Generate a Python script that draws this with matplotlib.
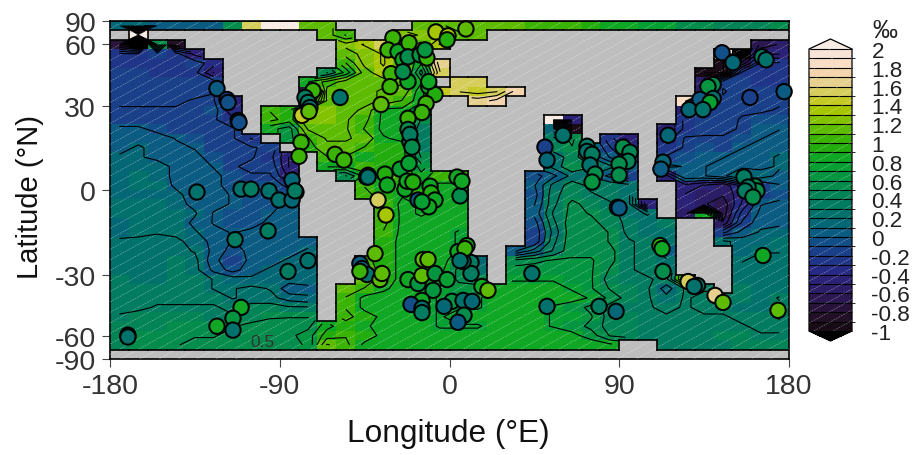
import numpy as np
import matplotlib
matplotlib.use('Agg')
import matplotlib.pyplot as plt
from matplotlib.colors import LinearSegmentedColormap, ListedColormap, BoundaryNorm
from matplotlib.collections import LineCollection

plt.rcParams['font.family'] = ['Liberation Sans', 'DejaVu Sans']
plt.rcParams['axes.unicode_minus'] = False

n = np.nan
N6 = [n, n, n, n, n, n]

# 36 x 36 grid, 10 deg in lon, equal steps in sin(lat), top row first. nan = land
grid = [
    [.15,.15,.1,.1,.1,.1, .6,1.5,2,2,1.2,1.2, n,n,n,n,1.15,1.15, 1.1,1.1,1.1,1.1,1.05,1.05, 1,.95,.9,.9,.75,.75, .5,.5,.45,.45,.45,.5],
    [n,2.1,n,n,n,n, n,n,n,n,n,1.2, 1,n,n,1.3,1.25,1.2, 1.15,1.1,n,n,n,n]+N6+N6,
    [-.8,-1.1,.6,-.85,n,n]+N6+[1.3,1.4,1.5,1.2,1.1,1.4]+N6+N6+[n,n,n,n,-.7,-.6],
    [-.22,-.24,-.18,-.2,-.4,n]+N6+[1.2,1.3,1.4,1.1,1,n]+N6+N6+[n,n,2,-1.1,-.5,-.5],
    [-.2,-.22,-.22,-.2,-.18,-.3]+N6+[1,1.3,1.4,1.2,.9,1.6]+N6+N6+[n,n,-1,-.7,-.22,-.22],
    [-.18,-.18,-.2,-.2,-.2,-.5, n,n,n,n,n,.5, .8,1.2,1.35,1.3,.7,1.5]+N6+N6+[n,-1,-1,-.22,-.2,-.2],
    [-.16,-.16,-.18,-.18,-.18,-.18, n,n,n,n,.9,1.05, 1.2,1.2,1.2,1.15,.9,n, 1.5,1.5,n,n,n,n]+N6+[n,-.6,-.15,-.18,-.2,-.2],
    [-.16,-.16,-.16,-.16,-.16,-.12, n,n,n,n,-.8,1.2, 1.2,1.2,1.1,1.1,.8,1.45, 1.5,1.45,1.5,1.8,n,n]+N6+[n,-.6,-.1,-.18,-.18,-.18],
    [-.14,-.14,-.14,-.14,-.1,-.1, -.5,n,n,n,.3,1.15, 1.2,1.2,1.1,1,.8,n, n,1.7,1.8,n,n,n]+N6+[1.9,-.2,-.14,-.18,-.18,-.14],
    [-.1,-.1,-.1,-.1,-.1,-.05, -.35,n,1,.95,1.2,1.25, 1.2,1.1,.85,.85,.6,n]+N6+N6+[-.5,-.15,-.18,-.14,-.14,-.1],
    [-.1,-.1,-.1,-.1,-.1,-.1, -.2,n,1.05,.95,1.25,1.25, 1.15,1.05,.85,.8,.5,n, n,n,n,n,n,2, -.4,n,n,n,n,n, -.2,-.18,-.18,-.1,-.05,-.05],
    [.05,.05,-.05,-.1,-.1,-.1, -.1,n,.8,.7,1.15,1.2, 1.15,1,.85,.85,.4,n, n,n,n,n,n,.2, -1,n,n,n,n,-.5, -.2,-.15,-.15,-.1,0,0],
    [.1,.1,.1,0,-.05,-.1, -.1,-.25,n,.7,1,1.15, 1.15,1.1,.9,.85,.4,n, n,n,n,n,n,.4, .55,n,-.2,-.4,n,-.3, -.1,-.1,-.1,-.05,0,.1],
    [.1,.15,.1,.05,0,-.1, -.1,-.1,-.15,n,.95,1.1, 1.1,1,.95,.95,.4,n, n,n,n,n,n,.45, .5,.2,-.1,-.3,n,-.2, -.1,-.05,-.1,0,.1,.1],
    [.15,.15,.1,.1,.05,-.05, -.1,-.1,-.2,-.5,n,1, 1,.9,.95,.95,.5,n, n,n,n,n,n,.3, .45,.25,0,-.2,n,-.1, -.05,0,0,.1,.1,.15],
    [.2,.2,.2,.1,.1,0, -.1,-.15,-.15,-.5,n,.9, .9,1,.95,1,.7,n, n,n,n,n,n,.3, .5,.4,.3,.1,n,.05, 0,0,.1,.1,.1,.15],
    [.2,.25,.2,.1,.1,.05, -.05,-.1,-.1,-.4,n,n, .5,.8,.9,1,.8,1, 1,n,n,n,-.05,.1, .3,.25,.1,-.1,n,-.4, 0,0,.1,.3,.2,.1],
    [.2,.25,.25,.1,.1,.05, -.05,-.05,-.05,-.15,n,n, n,1,.9,.95,.9,.85, .85,n,n,n,0,.3, .45,.35,.35,.3,n,n, -.4,-.5,-.6,-.3,-.1,0],
    [.2,.2,.18,.18,.05,.05, 0,-.05,-.05,-.05,n,n, n,1.05,.95,.9,1,.85, .8,n,n,n,-.05,.35, .45,.4,.35,.3,n,n, -.5,-.6,-.6,-.4,-.1,-.05],
    [.25,.25,.25,.18,.1,.05, 0,-.05,-.05,.05,n,n, n,n,1,.85,.9,.85, .8,n,n,n,0,.35, .55,.45,.4,.3,-.5,n, -.5,-.6,-.7,-.35,0,.05],
    [.25,.25,.25,.22,.15,0, -.05,-.05,0,.1,n,n, n,n,1.05,.85,.9,.85, .8,n,n,n,.05,.4, .55,.5,.45,.3,.25,n, -.6,.9,-.7,-.2,.05,.1],
    [.2,.25,.25,.22,.1,0, -.05,-.05,.05,.1,n,n, n,n,1.05,.85,.85,.85, .8,n,n,n,-.05,.35, .6,.55,.45,.35,.3,.35, n,n,-.6,-.1,.1,.1],
    [.18,.22,.25,.22,.15,.05, 0,.05,.1,.1,n,n, n,n,1,.85,.85,.8, .75,n,n,n,-.1,.3, .6,.6,.5,.35,.3,.3, n,n,-.15,.05,.15,.2],
    [.3,.3,.3,.3,.2,.1, 0,.1,.1,.1,.1,n, n,n,.95,.85,.85,.8, .75,n,n,n,-.1,.35, .6,.6,.5,.4,.35,.3, n,n,.3,.2,.2,.25],
    [.3,.3,.3,.3,.25,.1, -.05,.05,.1,.1,.15,n, n,n,.95,.85,.85,.8, .75,n,n,0,.2,.4, .6,.6,.55,.4,.35,.1, n,n,n,.2,.25,.25],
    [.3,.3,.3,.35,.3,.05, -.1,.05,.1,.15,.2,n, n,1.05,.95,.85,.85,.8, .7,.2,n,.55,.6,.65, .65,.65,.55,.4,.35,.3, n,n,n,.25,.3,.3],
    [.3,.3,.3,.35,.3,.1, -.05,.1,.15,.15,.15,n, n,1.1,.95,.85,.85,.8, .6,.3,n,.7,.7,.7, .7,.65,.5,.4,.35,.3, n,n,n,.3,.3,.3],
    [.35,.3,.3,.35,.35,.25, .2,.15,.2,.2,.2,n, n,1.1,.95,.85,.8,.8, .6,.55,n,.75,.75,.75, .7,.65,.45,.4,.4,.35, 1,n,n,.3,.3,.3],
    [.35,.35,.35,.35,.35,.25, .25,.3,.25,.05,.1,n, 1.1,1,.9,.85,.8,.75, .7,.7,.8,.8,.8,.8, .75,.65,.5,.45,.4,.2, .4,.4,n,.35,.3,.3],
    [.35,.35,.35,.35,.35,.35, .25,.3,.3,.2,.15,n, 1,.85,.85,.85,.8,.75, .75,.75,.8,.8,.8,.8, .8,.75,.6,.45,.4,.3, .4,.35,.35,.35,.3,.4],
    [.35,.35,.4,.4,.4,.4, .35,.45,.45,.4,.4,n, 1,.85,.85,.85,.8,.75, .75,.75,.8,.8,.8,.75, .7,.6,.45,.4,.4,.35, .4,.35,.35,.3,.3,.35],
    [.4,.45,.45,.45,.45,.4, .4,.45,.5,.5,.5,n, 1.05,.95,.85,.85,.8,.75, .8,.8,.8,.8,.8,.75, .75,.65,.45,.45,.4,.4, .4,.4,.4,.35,.35,.4],
    [.45,.45,.45,.5,.5,.5, .5,.55,.55,.6,.6,.85, .95,.9,.85,.85,.8,.75, .75,.75,.8,.8,.8,.75, .7,.6,.45,.45,.4,.4, .4,.4,.4,.4,.35,.35],
    [.45,.5,.5,.5,.5,.5, .55,.55,.6,.6,.7,.95, 1,.95,.85,.85,.8,.8, .8,.8,.8,.8,.8,.85, .8,.7,.5,.45,.4,.4, .4,.4,.45,.45,.4,.4],
    [.45,.5,.5,.5,.55,.55, .55,.55,.6,.6,.65,1.15, 1.05,.85,.85,.85,.8,.8, .8,.8,.8,.8,.85,.85, .85,.85,.8,n,n,.4, .4,.4,.4,.45,.45,.45],
    N6+N6+N6+N6+N6+N6,
]

# core sites: lon (E), lat (N), value (permil)
pt_lon = [-123.3,-118,-117.4,-112.1,-111.6,-72.4,-76.6,-75,-74,-78.2,-74.5,-58,-36.3,
          -30,-32.6,-27.3,-21.5,-24.7,-22,-15.6,-12,-31,-31.5,-22,-24.7,-11,-7.7,-11,
          -12.4,-14.6,-22,-22,-21,-7.2,-.8,8.7,-1.3,-13,-21,-19.9,
          -78.7,-79.8,-60.7,-56,-83.5,-81.4,-43.2,-44,-43.2,-34.2,-33,-37.9,-33.7,-26.2,-21.5,
          -23.6,-22.5,-19.4,-10.3,-9.8,-7.7,-11,-16.7,-14.6,4,5.6,6.6,
          -39.5,-47.5,-46.4,-43.7,-36.9,-35.8,-47.5,-22,-16.7,-14.6,-7.7,-1.3,-8.7,-14.6,-20.4,-14.6,-14.6,
          1.3,-2.9,7.2,12,7.7,4.5,-14,-11.4,4.5,9.3,11.4,11.4,7.2,17.2,20.4,
          -170.5,-170.5,-110.5,-114.8,-123.3,-114.8,-113.7,-96.2,-75,-85.6,-133.9,-110.5,-105.2,-95.7,-90.4,-83.5,-81.9,
          144.5,150.3,165.7,167.8,139.8,137,159.3,177.4,132.8,139.8,138.1,127,134.4,115.9,113.2,112.1,156.1,162,
          60.2,50.6,51.7,72.9,72.9,75.6,74.5,77.2,75.6,92,95.7,94.6,89.9,89.9,89,89.9,
          111.6,112.7,113.2,163,158.3,156.7,160.9,166.2,174.2,8.2,5.6,
          43.7,51.7,79.3,88.3,126.5,131.5,129.7,140.8,145]
pt_lat = [36.9,32.4,31.2,24.3,23.6,36,33.2,31.2,29.2,26.2,27.7,33.2,30.4,
          64.2,56,54.9,60.6,50.4,52,53.1,51.4,43.5,37.7,39.9,44.4,37.7,34.4,39.9,
          30.8,27.3,25.1,21,16.7,69.3,65.8,72.4,62.7,56,19.2,14.7,
          16.4,11.5,12.2,10.2,3.4,-.7,5,4.4,4.4,5.4,1.7,-3.4,-8.5,7.1,9.1,
          .3,3,2.7,1.3,-1,-3.4,-5.7,-3.4,-4,4.4,-2,3,
          -22.1,-25.8,-27.7,-30,-32,-29.6,-28.8,-32,-33.6,-30.4,-29.6,-32,-36.4,-40.8,-42.6,-44.4,-46.5,
          -41.2,-43.5,-40.8,-41.2,-47.8,-51.5,-24.3,-24.3,-21.4,-19.2,-25.4,-29.6,-25,-34.8,-36.4,
          -59.2,-60.4,-44,-49.4,-53.7,-56,-17.1,-14,-24.7,-28.8,-.7,.3,.3,-.3,-3.4,-3.4,-.3,
          54.3,48.9,52,50.4,38.6,37.7,33.2,35.6,32.4,32.8,31.2,28.4,28.4,18.9,9.5,7.1,4.4,1.3,
          18.9,14.7,10.2,15,13.2,12.2,8.5,5.4,2.7,14.7,12.9,9.8,8.8,5.1,-5.9,-6.1,
          -19.2,-20.3,-28.8,-.3,1,-.3,-2.4,-22.8,-45.4,-20.3,-24.7,
          -29.6,-43.5,-43.5,-45.9,-32.8,-34.4,-34.8,-38.6,-41.7]
pt_val = [.1,-.1,-.05,-.1,-.05,1,.35,.35,.3,1.45,1.2,.3,1.2,
          1.05,1,.8,1,.9,.6,.7,1,1,1.05,.9,.6,.85,.95,.85,
          1,1,1,.5,.4,1.4,1.4,1.15,.95,.7,.4,.5,
          1,1,1.05,1.05,.15,.4,.3,.2,.3,.95,.9,1.5,1.35,.75,.75,
          .9,.85,.95,.9,.95,.8,.8,.1,.75,.85,.5,.85,
          1.2,.1,.15,.3,1.2,1.1,1,.8,.7,1.2,.7,.75,.7,.8,-.05,.25,.4,
          .7,.15,.3,.2,.5,.05,1.1,1.2,.8,.9,.35,.35,.3,.9,1.2,
          .3,.3,.9,.7,.8,.3,.35,.35,.3,.4,.3,.3,.35,.3,.3,.2,.4,
          -.05,.2,.4,.25,.5,.7,-.1,.1,.1,.3,.75,.2,.3,.2,.2,.1,.4,.5,
          .25,-.1,.15,.35,.3,.35,.25,.5,.7,.6,.45,.45,.5,.55,.05,.05,
          1,.9,.5,.5,.4,.4,.5,.9,1.2,1,.3,
          .3,.25,.4,.2,1.5,.3,.3,1.6,1.1]

xticks = [-180, -90, 0, 90, 180]
yticks = [-90, -60, -30, 0, 30, 60, 90]
cb_ticks = [-1, -.8, -.6, -.4, -.2, 0, .2, .4, .6, .8, 1, 1.2, 1.4, 1.6, 1.8, 2]
cb_labels = ['-1', '-0.8', '-0.6', '-0.4', '-0.2', '0', '0.2', '0.4', '0.6', '0.8', '1', '1.2', '1.4', '1.6', '1.8', '2']

# colour stops
stops = [(-1, '#120809'), (-.9, '#1e0f22'), (-.8, '#27122f'), (-.6, '#2d1a5f'), (-.4, '#2a2583'), (-.2, '#1c3a8a'),
         (0, '#0f5587'), (.2, '#006d70'), (.4, '#03805c'), (.6, '#049047'), (.8, '#06a42c'), (1, '#2baf05'),
         (1.2, '#6cc000'), (1.4, '#b8c800'), (1.5, '#cdcc3c'), (1.6, '#dccf7a'), (1.7, '#ecd09c'), (1.8, '#f9d8bb'), (2, '#f8e8de')]
base = LinearSegmentedColormap.from_list('d18o', [((v + 1) / 3, c) for v, c in stops])
levels = np.linspace(-1, 2, 31)
cmap = ListedColormap(base((levels[:-1] + .05 + 1) / 3))
cmap.set_under('#000000')
cmap.set_over('#f8ece4')
norm = BoundaryNorm(levels, 30)

values = np.ma.masked_invalid(np.array(grid))
lon_edges = np.arange(-180, 181, 10)
lat_edges = np.degrees(np.arcsin(np.linspace(1, -1, 37)))
lon_mid = lon_edges[:-1] + 5
lat_mid = np.degrees(np.arcsin(np.linspace(1, -1, 37)[:-1] - 1 / 36))


def forward(a):
    return np.sin(np.radians(a))


def inverse(a):
    return np.degrees(np.arcsin(np.clip(a, -1, 1)))


def dashes(a, w, h):
    # thin white dashed pattern over the whole panel
    for off in np.arange(-w * .55, h, 10.5):
        a.plot([0, 1], [off / h, (off + w * .55) / h], transform=a.transAxes, color='white',
               lw=.45, ls=(0, (3, 1.5)), alpha=.45, zorder=3)


fig = plt.figure(figsize=(9.14, 4.56), dpi=100)
ax = fig.add_axes([110 / 914, 96 / 456, 679 / 914, 338 / 456])
ax.set_yscale('function', functions=(forward, inverse))
ax.set_facecolor('#bebebe')
mesh = ax.pcolormesh(lon_edges, lat_edges, values, cmap=cmap, norm=norm, antialiased=False, zorder=1)
dashes(ax, 679, 338)
ax.contour(lon_mid, lat_mid, values, levels=np.arange(-1, 2.01, .125) + .01, colors='black',
           linewidths=.8, linestyles='solid', zorder=4)

# coast outline along cell edges
land = values.mask
segs = []
for j in range(36):
    for i in range(36):
        if land[j, i]:
            continue
        if j == 0 or land[j - 1, i]:
            segs.append([(lon_edges[i], lat_edges[j]), (lon_edges[i + 1], lat_edges[j])])
        if j == 35 or land[j + 1, i]:
            segs.append([(lon_edges[i], lat_edges[j + 1]), (lon_edges[i + 1], lat_edges[j + 1])])
        if i > 0 and land[j, i - 1]:
            segs.append([(lon_edges[i], lat_edges[j]), (lon_edges[i], lat_edges[j + 1])])
        if i < 35 and land[j, i + 1]:
            segs.append([(lon_edges[i + 1], lat_edges[j]), (lon_edges[i + 1], lat_edges[j + 1])])
ax.add_collection(LineCollection(segs, colors='black', linewidths=1.2, capstyle='projecting', zorder=5))

ax.text(-99, -63.5, '0.5', fontsize=12.5, color='#333333', ha='center', va='center', zorder=5)
ax.scatter(pt_lon, pt_lat, c=pt_val, cmap=cmap, norm=norm, s=122, edgecolors='black',
           linewidths=1.45, zorder=6, clip_on=False)

ax.set_xlim(-180, 180)
ax.set_ylim(-90, 90)
ax.set_xticks(xticks)
ax.set_yticks(yticks)
ax.minorticks_off()
ax.set_xticklabels([str(v) for v in xticks])
ax.set_yticklabels([str(v) for v in yticks])
ax.tick_params(labelsize=20.5, length=6, width=.8, color='#444444', labelcolor='#333333', pad=4)
for s in ax.spines.values():
    s.set_linewidth(1.2)
fig.text(448 / 914, 1 - 434 / 456, 'Longitude (°E)', fontsize=22.8, ha='center', va='center', color='#111111')
fig.text(30 / 914, 1 - 197 / 456, 'Latitude (°N)', fontsize=21, rotation=90, ha='center', va='center', color='#111111')

# axes box includes both end triangles
cax = fig.add_axes([809 / 914, 1 - 342 / 456, 43 / 914, 302 / 456])
cb = fig.colorbar(mesh, cax=cax, extend='both', extendfrac=10 / 282, drawedges=True, ticks=cb_ticks)
cb.ax.set_yticklabels(cb_labels)
cb.ax.tick_params(length=0, pad=14, labelsize=16.2, labelcolor='#222222')
cb.dividers.set_linewidth(.8)
cb.outline.set_linewidth(.9)
dashes(cb.ax, 43, 282)
fig.text(872 / 914, 1 - 31 / 456, '‰', fontsize=18, ha='left', va='center', color='#222222')

fig.savefig('out.png', dpi=100)
